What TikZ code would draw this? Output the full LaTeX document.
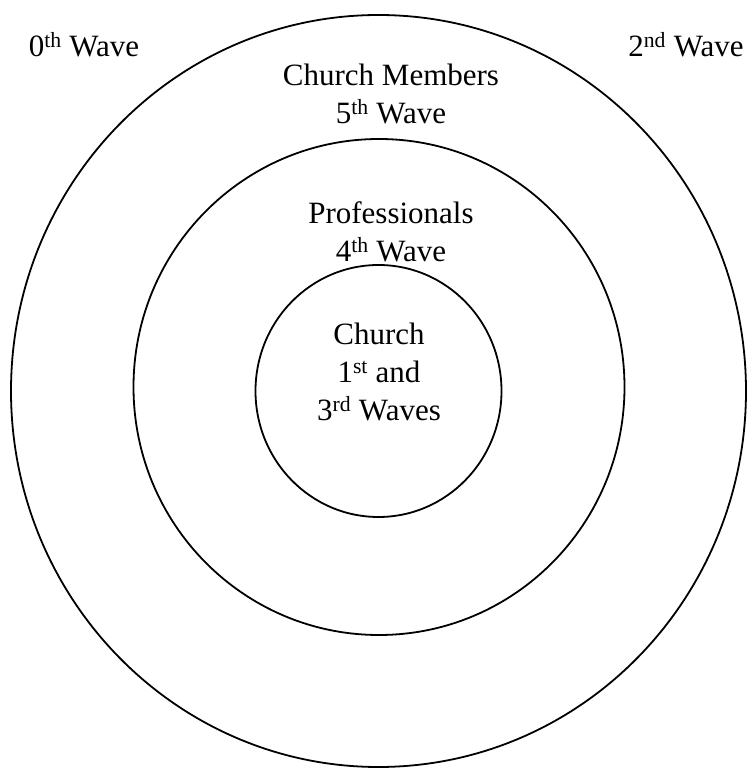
\documentclass[tikz,border=0pt]{standalone}
\usepackage{fontspec}
\setmainfont{Liberation Serif}
\usepackage{tikz}
\usetikzlibrary{positioning}

\begin{document}
\begin{tikzpicture}[x=1pt, y=1pt, ring/.style={draw=black, line width=1.8pt}, every node/.style={font=\fontsize{31}{38}\selectfont, align=center, inner sep=0pt}]
        % Fix the page size
        \useasboundingbox (0,0) rectangle (753,772);

        % Centres of the rings
        \coordinate (c) at (378.5,381);
        \coordinate (cm) at (379,385);

        % Draw the three rings
        \draw[ring] (c) ellipse [x radius=367.5, y radius=376];
        \draw[ring] (cm) ellipse [x radius=245.5, y radius=248];
        \draw[ring] (c) ellipse [x radius=123, y radius=126];

        % Labels outside the outer ring
        \node (w0) at (84,727) {0\textsuperscript{th} Wave};
        \node (w2) at (686,727) {2\textsuperscript{nd} Wave};

        % Labels inside the rings
        \node (members) at (391,678) {Church Members\\5\textsuperscript{th} Wave};
        \node (prof) at (391,540) {Professionals\\4\textsuperscript{th} Wave};
        \node (church) at (379,400) {Church\\1\textsuperscript{st} and\\3\textsuperscript{rd} Waves};
      \end{tikzpicture}
\end{document}
